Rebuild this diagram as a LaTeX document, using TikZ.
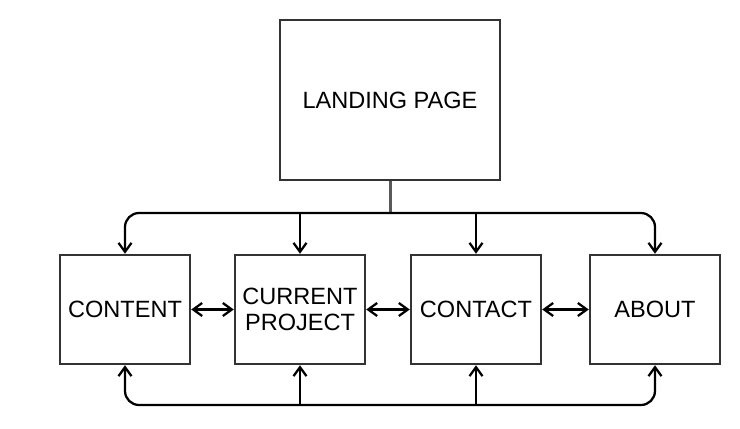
\documentclass[tikz,border=0pt]{standalone}
\usepackage{fontspec}
\setmainfont{Liberation Sans}
\usetikzlibrary{arrows.meta}

\begin{document}
\begin{tikzpicture}[x=0.02cm, y=-0.02cm,
    page/.style={draw=black!80, line width=0.5mm, align=center, inner sep=0pt,
      font=\fontsize{13.4}{14.8}\selectfont},
    link/.style={black, line width=0.45mm, -{Straight Barb[length=1.8mm, width=2.6mm]}},
    both/.style={black, line width=0.45mm, {Straight Barb[length=1.8mm, width=2.6mm]}-{Straight Barb[length=1.8mm, width=2.6mm]}}]
  \useasboundingbox (0,0) rectangle (740,429);

  % pages
  \node[page, minimum width=4.4cm, minimum height=3.2cm] (landing) at (390,100) {LANDING PAGE};
  \node[page, minimum width=2.6cm, minimum height=2.18cm] (content) at (125,309.5) {CONTENT};
  \node[page, minimum width=2.6cm, minimum height=2.18cm] (project) at (300,309.5) {CURRENT\\PROJECT};
  \node[page, minimum width=2.6cm, minimum height=2.18cm] (contact) at (476,309.5) {CONTACT};
  \node[page, minimum width=2.6cm, minimum height=2.18cm] (about) at (655,309.5) {ABOUT};

  \coordinate (top) at (390,213);
  \coordinate (low) at (390,405);

  % from landing page
  \draw[black!65, line width=0.6mm] (landing.south) -- (top);
  \draw[link, rounded corners=8] (top) -| (content.north);
  \draw[link, rounded corners=8] (top) -| (about.north);
  \draw[link] (top -| project.north) -- (project.north);
  \draw[link] (top -| contact.north) -- (contact.north);

  % between pages
  \draw[both] (content.east) -- (project.west);
  \draw[both] (project.east) -- (contact.west);
  \draw[both] (contact.east) -- (about.west);

  % bottom loop
  \draw[both, rounded corners=8] (content.south) |- (low) -| (about.south);
  \draw[link] (low -| project.south) -- (project.south);
  \draw[link] (low -| contact.south) -- (contact.south);
\end{tikzpicture}
\end{document}
